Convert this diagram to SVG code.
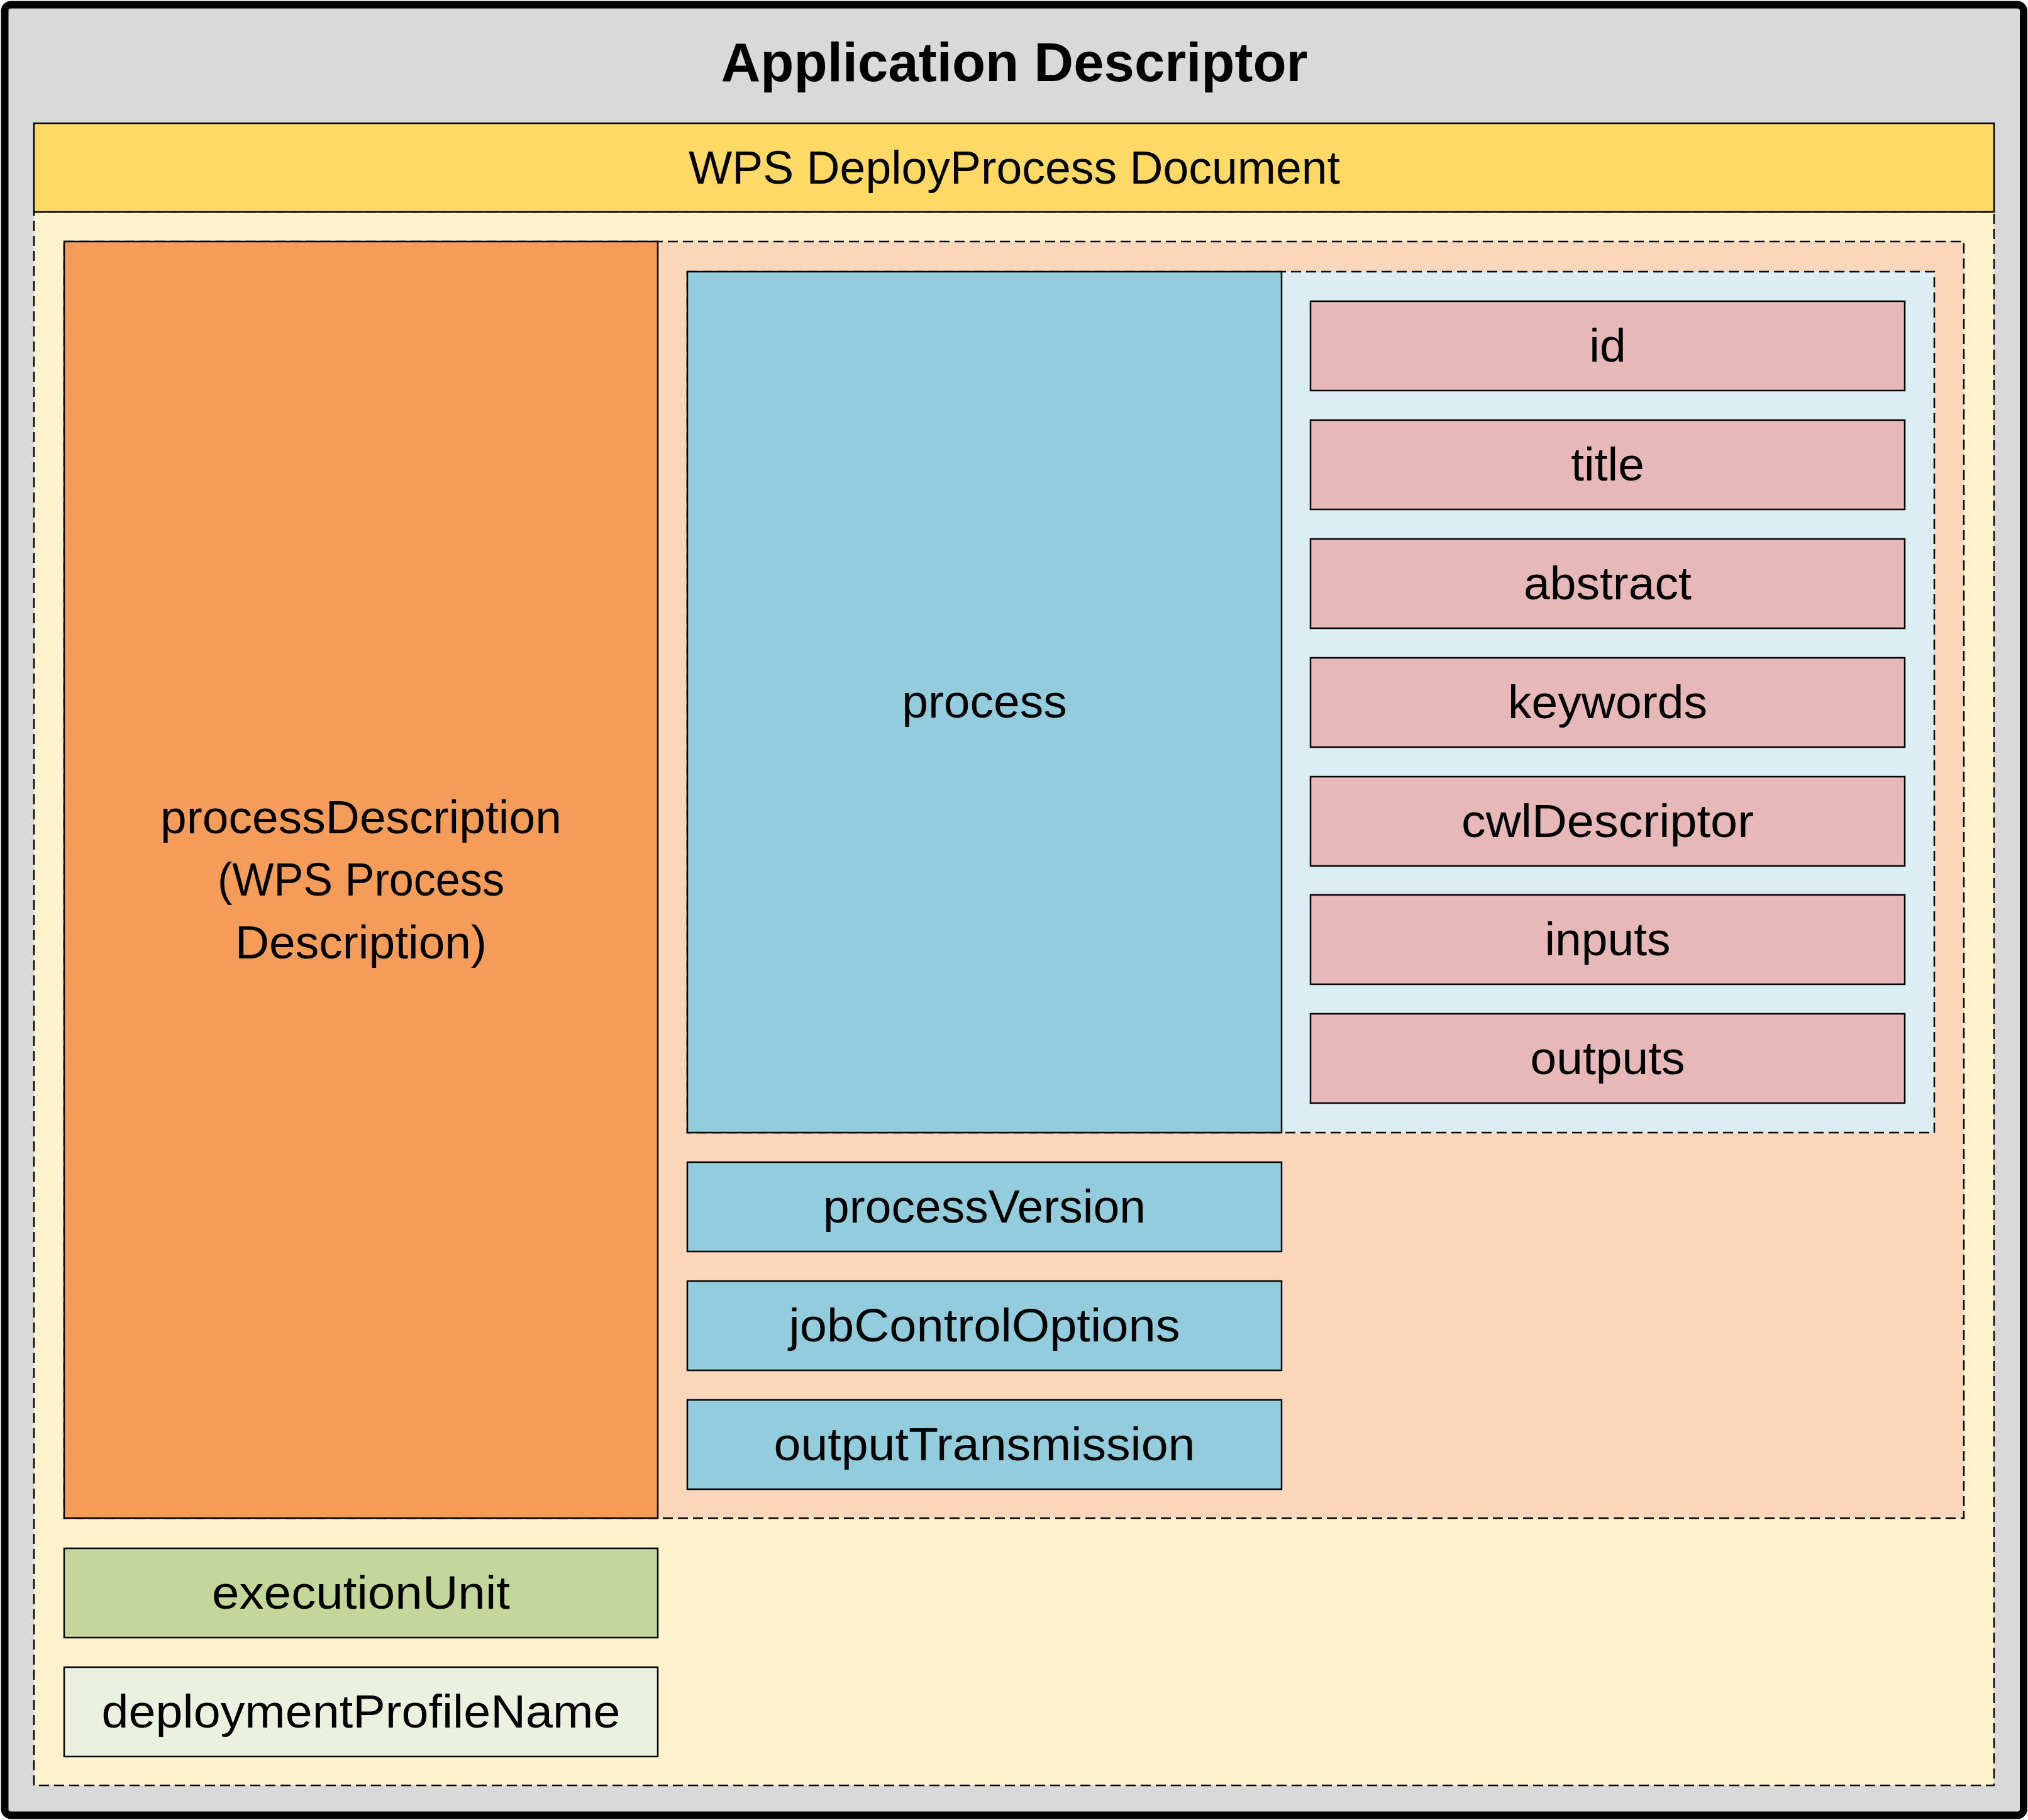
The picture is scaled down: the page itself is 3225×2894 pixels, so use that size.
<svg xmlns="http://www.w3.org/2000/svg" width="3225" height="2894" viewBox="0 0 3225 2894">
<style>
.box{stroke:#000;stroke-width:2.5}
.dash{stroke:#000;stroke-width:2.5;stroke-dasharray:16 8}
.lbl{font-family:"Liberation Sans",Arial,sans-serif;font-size:75px;fill:#000;text-anchor:middle}
.ttl{font-family:"Liberation Sans",Arial,sans-serif;font-size:87px;font-weight:bold;fill:#000;text-anchor:middle}
.pink{fill:#E6B8B7}
.blue{fill:#93CDDD}
</style>
<g id="application-descriptor">
<rect x="7.5" y="7.5" width="3210.5" height="2879" rx="10" fill="#D9D9D9" stroke="#000" stroke-width="12"/>
<text class="ttl" x="1613" y="129">Application Descriptor</text>
</g>
<g id="wps-deployprocess-document">
<rect x="54" y="337" width="3117" height="2502" fill="#FFF2CC" class="dash"/>
<rect x="54" y="196" width="3117" height="141" fill="#FFD966" class="box"/>
<text class="lbl" x="1613" y="292" textLength="1036" lengthAdjust="spacingAndGlyphs">WPS DeployProcess Document</text>
</g>
<g id="process-description-group">
<rect x="102" y="384" width="3021" height="2030" fill="#FAD7BB" class="dash"/>
</g>
<g id="processDescription">
<rect x="102" y="384" width="944" height="2030" fill="#F49D5A" class="box"/>
<text class="lbl" x="574" y="1325">processDescription</text>
<text class="lbl" x="574" y="1424" textLength="456" lengthAdjust="spacingAndGlyphs">(WPS Process</text>
<text class="lbl" x="574" y="1524">Description)</text>
</g>
<g id="process-group">
<rect x="1093" y="432" width="1983" height="1369" fill="#DBEEF4" class="dash"/>
</g>
<g id="process">
<rect x="1093" y="432" width="945" height="1369" class="box blue"/>
<text class="lbl" x="1565.5" y="1141">process</text>
</g>
<g id="id">
<rect x="2084" y="479" width="945" height="142" class="box pink"/>
<text class="lbl" x="2556.5" y="575">id</text>
</g>
<g id="title">
<rect x="2084" y="668" width="945" height="142" class="box pink"/>
<text class="lbl" x="2556.5" y="764">title</text>
</g>
<g id="abstract">
<rect x="2084" y="857" width="945" height="142" class="box pink"/>
<text class="lbl" x="2556.5" y="953">abstract</text>
</g>
<g id="keywords">
<rect x="2084" y="1046" width="945" height="142" class="box pink"/>
<text class="lbl" x="2556.5" y="1142">keywords</text>
</g>
<g id="cwlDescriptor">
<rect x="2084" y="1235" width="945" height="142" class="box pink"/>
<text class="lbl" x="2556.5" y="1331" textLength="465" lengthAdjust="spacingAndGlyphs">cwlDescriptor</text>
</g>
<g id="inputs">
<rect x="2084" y="1423" width="945" height="142" class="box pink"/>
<text class="lbl" x="2556.5" y="1519">inputs</text>
</g>
<g id="outputs">
<rect x="2084" y="1612" width="945" height="142" class="box pink"/>
<text class="lbl" x="2556.5" y="1708">outputs</text>
</g>
<g id="processVersion">
<rect x="1093" y="1848" width="945" height="142" class="box blue"/>
<text class="lbl" x="1565.5" y="1944">processVersion</text>
</g>
<g id="jobControlOptions">
<rect x="1093" y="2037" width="945" height="142" class="box blue"/>
<text class="lbl" x="1565.5" y="2133" textLength="622" lengthAdjust="spacingAndGlyphs">jobControlOptions</text>
</g>
<g id="outputTransmission">
<rect x="1093" y="2226" width="945" height="142" class="box blue"/>
<text class="lbl" x="1565.5" y="2322" textLength="670" lengthAdjust="spacingAndGlyphs">outputTransmission</text>
</g>
<g id="executionUnit">
<rect x="102" y="2462" width="944" height="142" fill="#C4D79B" class="box"/>
<text class="lbl" x="574" y="2558" textLength="474" lengthAdjust="spacingAndGlyphs">executionUnit</text>
</g>
<g id="deploymentProfileName">
<rect x="102" y="2651" width="944" height="142" fill="#EBF1DF" class="box"/>
<text class="lbl" x="574" y="2747" textLength="825" lengthAdjust="spacingAndGlyphs">deploymentProfileName</text>
</g>
<g id="connectors"></g>
</svg>
